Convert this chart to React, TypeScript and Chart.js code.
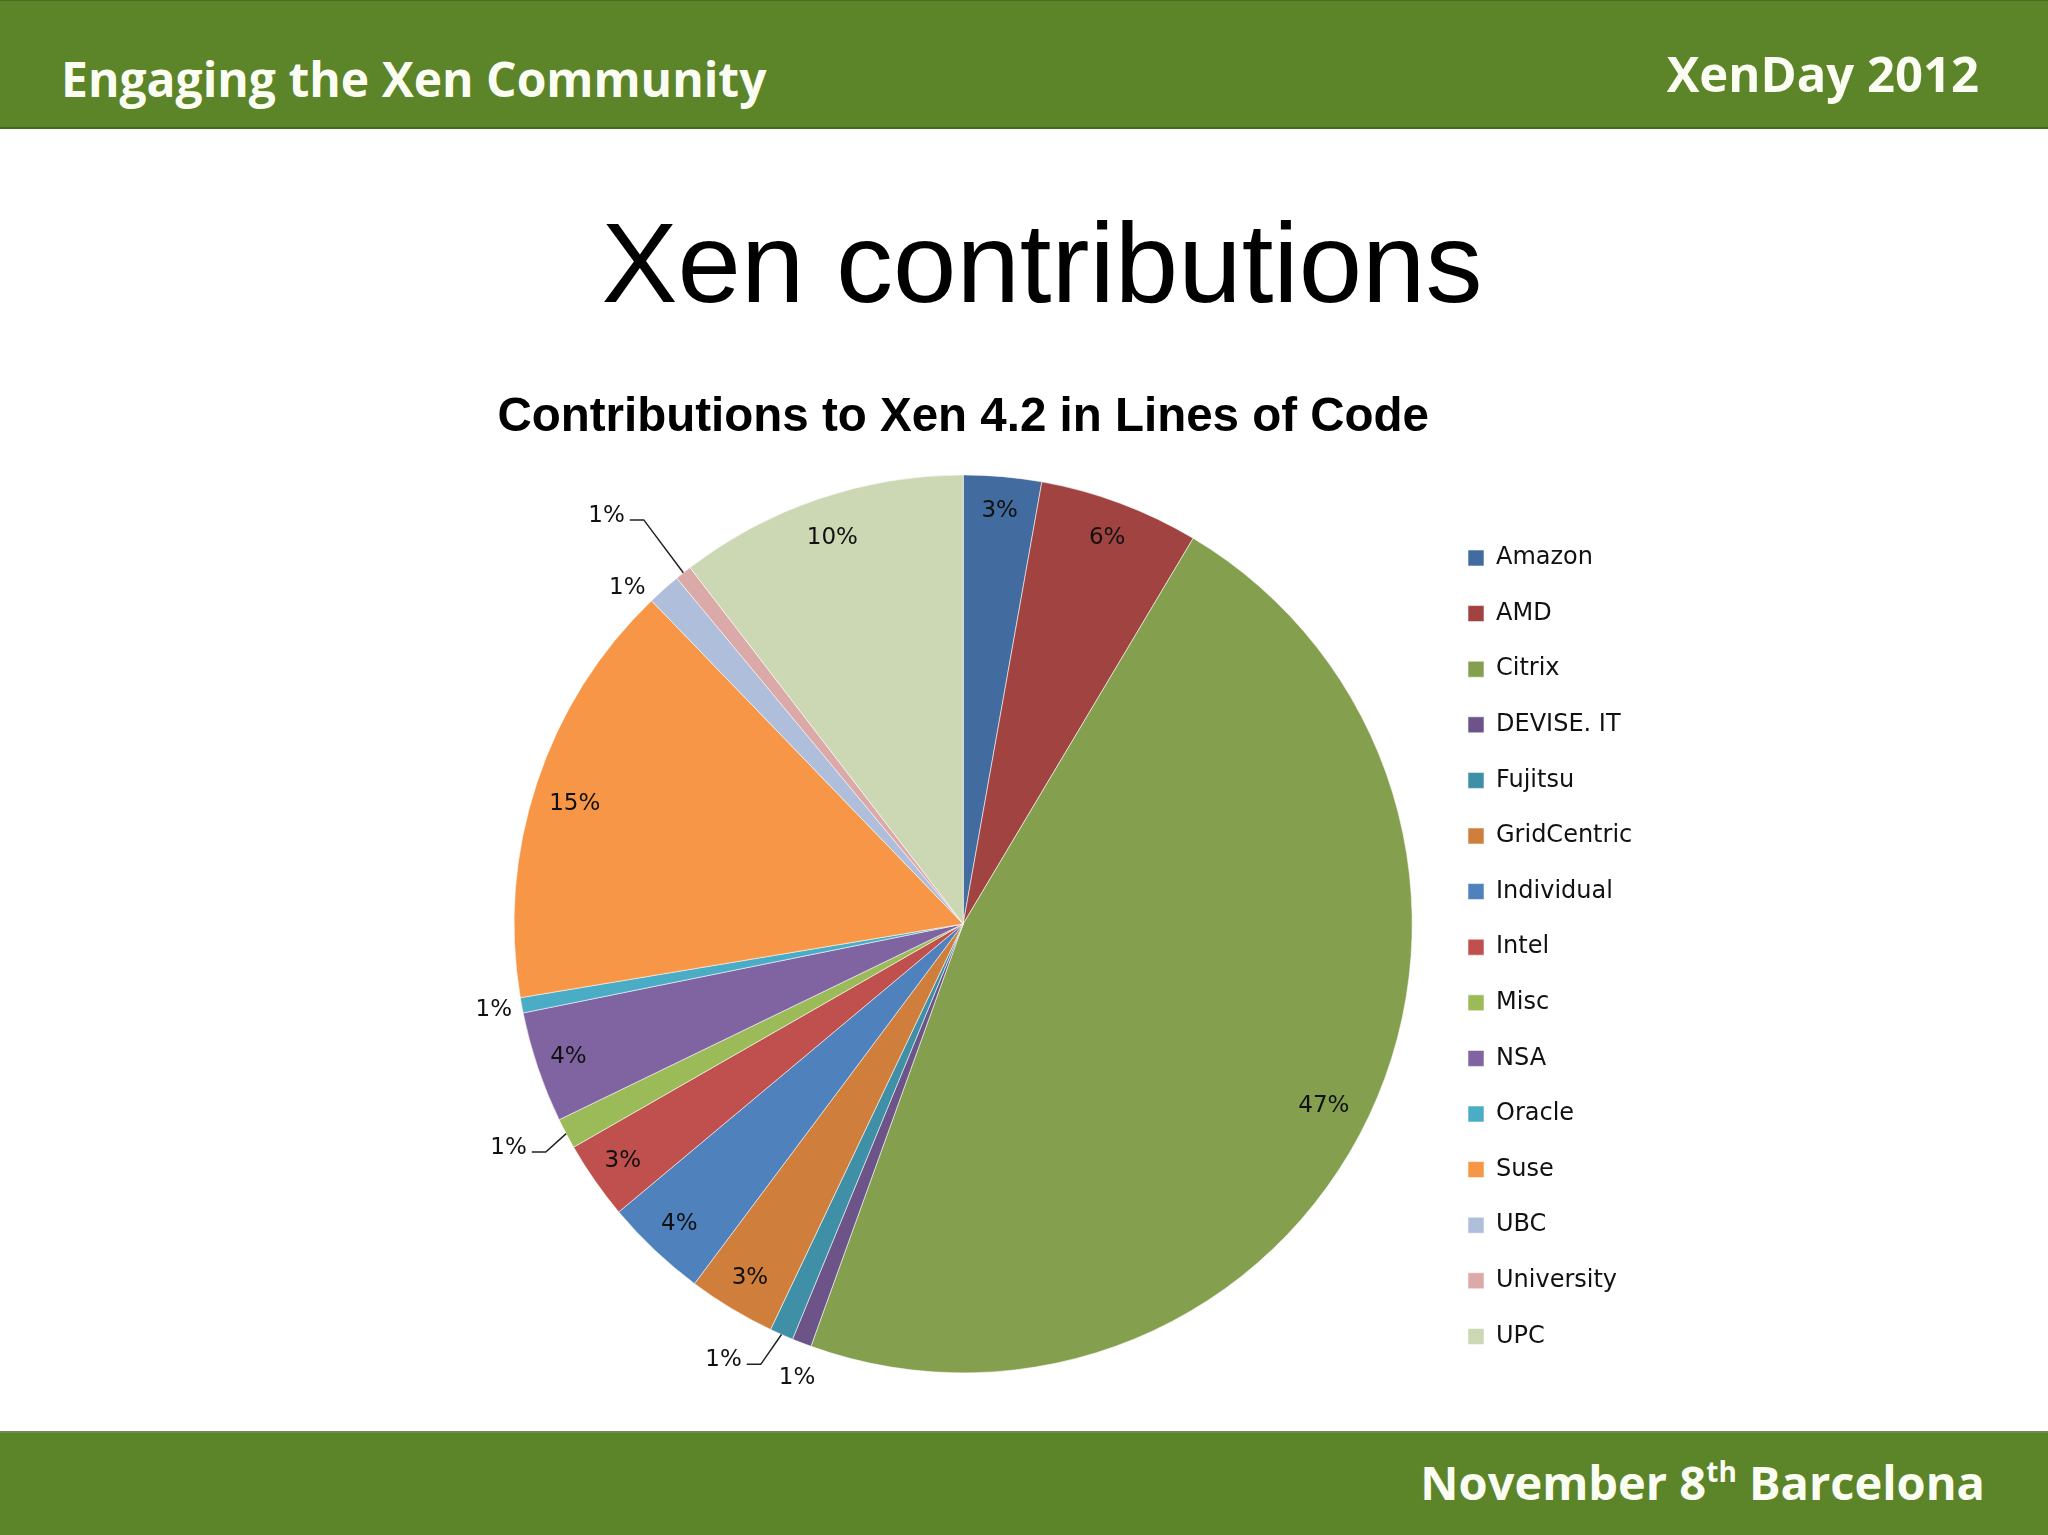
import React, { useEffect, useRef } from "react";
import { Chart, registerables } from "chart.js";

Chart.register(...registerables);

// ---- data ----
const CATEGORIES = [
  "Amazon", "AMD", "Citrix", "DEVISE. IT", "Fujitsu", "GridCentric", "Individual",
  "Intel", "Misc", "NSA", "Oracle", "Suse", "UBC", "University", "UPC",
];
const SHARES = [2.8, 5.75, 46.9, 0.7, 0.85, 3.15, 3.7, 2.8, 1.1, 4.0, 0.55, 15.4, 1.2, 0.6, 10.4];
const COLORS = [
  "#426C9F", "#A14341", "#84A04F", "#6C5488", "#3F90A6", "#CF7E3B", "#4F81BD",
  "#C0504D", "#9BBB59", "#8064A2", "#4BACC6", "#F79646", "#AFBEDB", "#DBA9A8", "#CBD8B3",
];
const CHART_TITLE = "Contributions to Xen 4.2 in Lines of Code";
const SLIDE_TITLE = "Xen contributions";
const HEADER_LEFT = "Engaging the Xen Community";
const HEADER_RIGHT = "XenDay 2012";

// ---- label placement (style): radial factor, angle shift (deg), leader line ----
const LABEL_PLACEMENT = [
  { radius: 0.923, shift: 0, leader: false },
  { radius: 0.918, shift: 0, leader: false },
  { radius: 0.9, shift: 1.5, leader: false },
  { radius: 1.078, shift: -1, leader: false },
  { radius: 1.109, shift: 4.9, leader: true },
  { radius: 0.92, shift: 0, leader: false },
  { radius: 0.92, shift: 0, leader: false },
  { radius: 0.924, shift: 0, leader: false },
  { radius: 1.129, shift: 1.6, leader: true },
  { radius: 0.928, shift: 0, leader: false },
  { radius: 1.063, shift: 0, leader: false },
  { radius: 0.905, shift: -1.2, leader: false },
  { radius: 1.058, shift: -3.2, leader: false },
  { radius: 1.207, shift: -2.6, leader: true },
  { radius: 0.907, shift: 0, leader: false },
];

// ---- geometry (page px) ----
const CANVAS_LEFT = 440;
const CANVAS_TOP = 360;
const CANVAS_W = 1300;
const CANVAS_H = 1060;
const LEGEND_FONT = 24;
const LEGEND_PAD = 31.6;
const LEGEND_BOX = 16;
const LEGEND_BOX_LEFT = 1468;

const GREEN = "#5C8428";

const sliceLabels = {
  id: "sliceLabels",
  afterDatasetsDraw(chart: any) {
    const meta = chart.getDatasetMeta(0);
    const ctx = chart.ctx as CanvasRenderingContext2D;
    const data = chart.data.datasets[0].data as number[];
    const total = data.reduce((a, b) => a + b, 0);
    ctx.save();
    ctx.font = '23px "DejaVu Sans"';
    ctx.fillStyle = "#111";
    ctx.strokeStyle = "#222";
    ctx.lineWidth = 1.5;
    ctx.textAlign = "center";
    ctx.textBaseline = "middle";
    meta.data.forEach((arc: any, i: number) => {
      const p = arc.getProps(["x", "y", "startAngle", "endAngle", "outerRadius"], true);
      const mid = (p.startAngle + p.endAngle) / 2;
      const place = LABEL_PLACEMENT[i];
      const a = mid + (place.shift * Math.PI) / 180;
      const r = p.outerRadius * place.radius;
      const lx = p.x + Math.cos(a) * r;
      const ly = p.y + Math.sin(a) * r;
      const text = `${Math.round((data[i] / total) * 100)}%`;
      ctx.fillText(text, lx, ly);
      if (place.leader) {
        const w = ctx.measureText(text).width;
        const sx = lx + w / 2 + 5;
        const sy = ly + 4;
        ctx.beginPath();
        ctx.moveTo(sx, sy);
        ctx.lineTo(sx + 14, sy);
        ctx.lineTo(p.x + Math.cos(mid) * p.outerRadius, p.y + Math.sin(mid) * p.outerRadius);
        ctx.stroke();
      }
    });
    ctx.restore();
  },
};

function PieChart() {
  const ref = useRef<HTMLCanvasElement | null>(null);
  useEffect(() => {
    if (!ref.current) return;
    const meas = document.createElement("canvas").getContext("2d") as CanvasRenderingContext2D;
    meas.font = `${LEGEND_FONT}px "DejaVu Sans"`;
    const maxText = Math.max(...CATEGORIES.map((c) => meas.measureText(c).width));
    const legendW = LEGEND_PAD + LEGEND_BOX + LEGEND_FONT / 2 + maxText + 10;
    const legendLeft = LEGEND_BOX_LEFT - LEGEND_PAD - CANVAS_LEFT;
    const padRight = CANVAS_W - legendLeft - legendW;

    const chart = new Chart(ref.current, {
      type: "pie",
      data: {
        labels: CATEGORIES,
        datasets: [
          {
            data: SHARES,
            backgroundColor: COLORS,
            borderColor: "rgba(255,255,255,0.55)",
            borderWidth: 1,
          },
        ],
      },
      options: {
        responsive: false,
        animation: false,
        events: [],
        radius: 449,
        layout: { padding: { left: 50, right: padRight, top: 0, bottom: 40 } },
        plugins: {
          tooltip: { enabled: false },
          title: {
            display: true,
            text: CHART_TITLE,
            fullSize: false,
            color: "#000",
            font: { family: '"Liberation Sans", Arial, sans-serif', size: 47.5, weight: "bold", lineHeight: 1.2 },
            padding: { top: 29.5, bottom: 21.3 },
          },
          legend: {
            display: true,
            position: "right",
            align: "end",
            labels: {
              boxWidth: LEGEND_BOX,
              boxHeight: LEGEND_BOX,
              padding: LEGEND_PAD,
              color: "#111",
              font: { family: '"DejaVu Sans"', size: LEGEND_FONT },
            },
          },
        },
      } as any,
      plugins: [sliceLabels],
    });
    return () => chart.destroy();
  }, []);
  return (
    <canvas
      ref={ref}
      width={CANVAS_W}
      height={CANVAS_H}
      style={{ position: "absolute", left: CANVAS_LEFT, top: CANVAS_TOP, width: CANVAS_W, height: CANVAS_H }}
    />
  );
}

export default function App() {
  const bandText: React.CSSProperties = {
    position: "absolute",
    fontFamily: '"Open Sans", sans-serif',
    fontWeight: 700,
    color: "#FBFDF3",
    lineHeight: 1,
    whiteSpace: "nowrap",
  };
  return (
    <div
      style={{
        position: "absolute",
        left: 0,
        top: 0,
        width: 2048,
        height: 1535,
        background: "#fff",
        overflow: "hidden",
      }}
    >
      <div
        style={{
          position: "absolute",
          left: 0,
          top: 0,
          width: 2048,
          height: 129,
          background: GREEN,
          borderTop: "1px solid #4A6D1F",
          borderBottom: "2px solid #46661E",
          boxSizing: "border-box",
        }}
      />
      <div style={{ ...bandText, left: 61, top: 55.4, fontSize: 48 }}>{HEADER_LEFT}</div>
      <div style={{ ...bandText, right: 69, top: 48.5, fontSize: 49 }}>{HEADER_RIGHT}</div>

      <div
        style={{
          position: "absolute",
          left: 18,
          width: 2048,
          top: 205.5,
          textAlign: "center",
          fontFamily: '"Liberation Sans", Arial, sans-serif',
          fontSize: 114,
          lineHeight: 1,
          color: "#000",
          whiteSpace: "nowrap",
        }}
      >
        {SLIDE_TITLE}
      </div>

      <PieChart />

      <div
        style={{
          position: "absolute",
          left: 0,
          top: 1431,
          width: 2048,
          height: 104,
          background: GREEN,
          borderTop: "2px solid #6F8A55",
          boxSizing: "border-box",
        }}
      />
      <div style={{ ...bandText, right: 63, top: 1458.5, fontSize: 47 }}>
        November 8
        <span style={{ fontSize: 28, position: "relative", top: -18 }}>th</span> Barcelona
      </div>
    </div>
  );
}
